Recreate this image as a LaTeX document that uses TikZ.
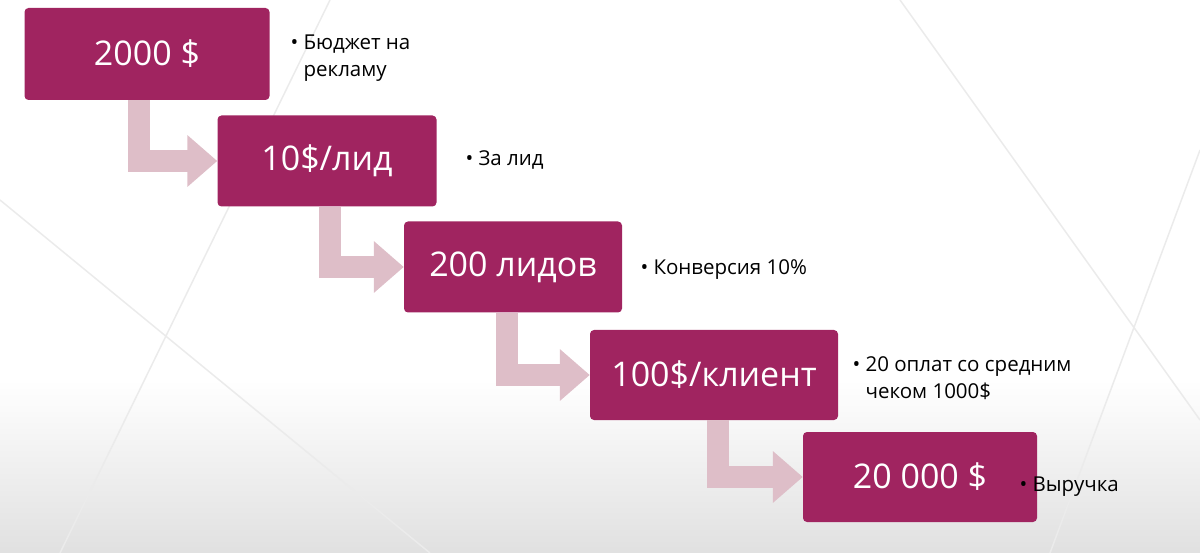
\documentclass[tikz,border=0pt]{standalone}
\usepackage{fontspec}
\setmainfont{Open Sans}
\usetikzlibrary{arrows.meta}
\definecolor{boxmag}{RGB}{160,36,96}
\definecolor{arrpink}{RGB}{222,190,200}
\begin{document}
\begin{tikzpicture}[x=1pt,y=-1pt,
  stepbox/.style={fill=boxmag,rounded corners=4pt,text=white,font=\fontsize{34}{36}\selectfont,inner sep=0pt},
  bullet/.style={anchor=west,align=left,font=\fontsize{20.5}{27}\selectfont},
  turn/.style={arrpink,line width=22pt,-{Triangle[length=30pt,width=50pt]}}]
\useasboundingbox (0,0) rectangle (1200,553);
\shade[top color=white,bottom color=black!12] (0,380) rectangle (1200,553);
% faint background lines
\draw[black!8,line width=1.5pt] (0,200) -- (430,553) (60,553) -- (330,0) (900,0) -- (1200,420) (1050,553) -- (1200,150);
% boxes
\node[stepbox,minimum width=245pt,minimum height=92pt] (b1) at (147,54) {2000 \$};
\node[stepbox,minimum width=219pt,minimum height=91pt] (b2) at (327,161) {10\$/лид};
\node[stepbox,minimum width=218pt,minimum height=91pt] (b3) at (513,267) {200 лидов};
\node[stepbox,minimum width=248pt,minimum height=90pt] (b4) at (714,375) {100\$/клиент};
\node[stepbox,minimum width=234pt,minimum height=90pt] (b5) at (920,477) {20 000 \$};
% arrows
\draw[turn] ([xshift=-8pt]b1.south) |- (b2.west);
\draw[turn] ([xshift=3pt]b2.south) |- (b3.west);
\draw[turn] ([xshift=-6pt]b3.south) |- (b4.west);
\draw[turn] ([xshift=4pt]b4.south) |- (b5.west);
% notes
\node[bullet] (n1) at (287,58) {• Бюджет на\\\phantom{• }рекламу};
\node[bullet] (n2) at (462,160) {• За лид};
\node[bullet] (n3) at (637,270) {• Конверсия 10\%};
\node[bullet] (n4) at (849,378) {• 20 оплат со средним\\\phantom{• }чеком 1000\$};
\node[bullet] (n5) at (1016,487) {• Выручка};
\end{tikzpicture}
\end{document}
